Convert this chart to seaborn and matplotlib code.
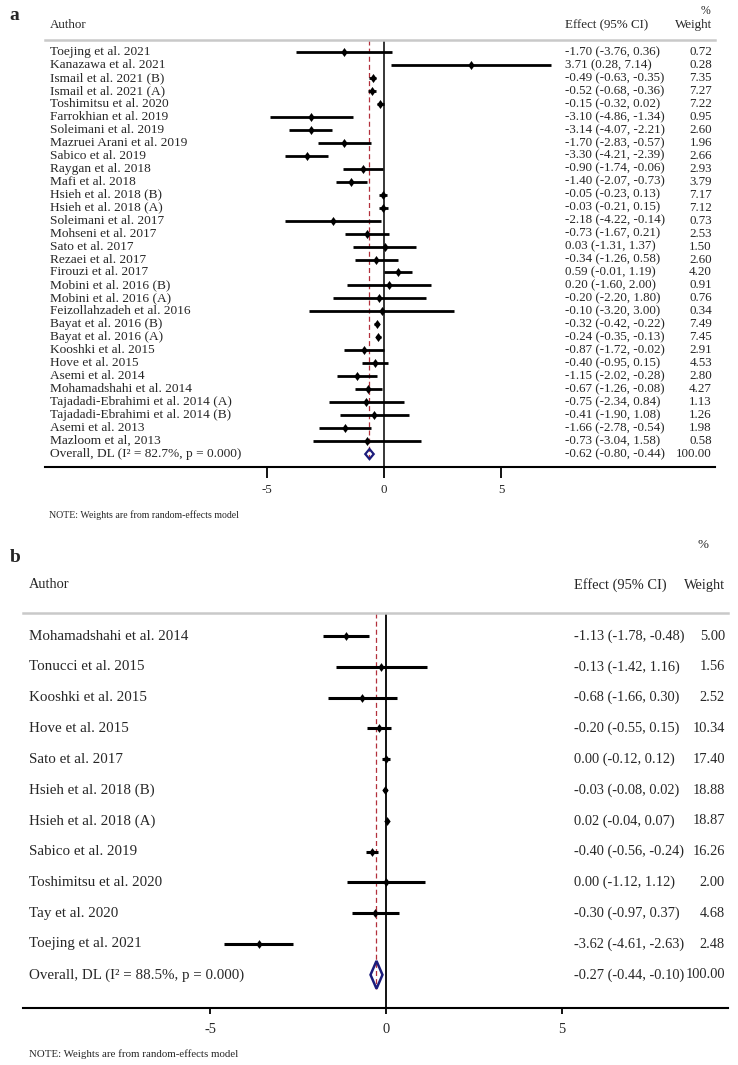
import matplotlib
matplotlib.use("Agg")
import matplotlib.pyplot as plt
from matplotlib.markers import MarkerStyle
from matplotlib.patches import Polygon
import seaborn as sns
import pandas as pd

# ---------------- data: panel a ----------------
authors_a = [
    "Toejing et al. 2021", "Kanazawa et al. 2021", "Ismail et al. 2021 (B)",
    "Ismail et al. 2021 (A)", "Toshimitsu et al. 2020", "Farrokhian et al. 2019",
    "Soleimani et al. 2019", "Mazruei Arani et al. 2019", "Sabico et al. 2019",
    "Raygan et al. 2018", "Mafi et al. 2018", "Hsieh et al. 2018 (B)",
    "Hsieh et al. 2018 (A)", "Soleimani et al. 2017", "Mohseni et al. 2017",
    "Sato et al. 2017", "Rezaei et al. 2017", "Firouzi et al. 2017",
    "Mobini et al. 2016 (B)", "Mobini et al. 2016 (A)", "Feizollahzadeh et al. 2016",
    "Bayat et al. 2016 (B)", "Bayat et al. 2016 (A)", "Kooshki et al. 2015",
    "Hove et al. 2015", "Asemi et al. 2014", "Mohamadshahi et al. 2014",
    "Tajadadi-Ebrahimi et al. 2014 (A)", "Tajadadi-Ebrahimi et al. 2014 (B)",
    "Asemi et al. 2013", "Mazloom et al, 2013",
]
effect_a = [-1.70, 3.71, -0.49, -0.52, -0.15, -3.10, -3.14, -1.70, -3.30, -0.90,
            -1.40, -0.05, -0.03, -2.18, -0.73, 0.03, -0.34, 0.59, 0.20, -0.20,
            -0.10, -0.32, -0.24, -0.87, -0.40, -1.15, -0.67, -0.75, -0.41, -1.66,
            -0.73]
lower_a = [-3.76, 0.28, -0.63, -0.68, -0.32, -4.86, -4.07, -2.83, -4.21, -1.74,
           -2.07, -0.23, -0.21, -4.22, -1.67, -1.31, -1.26, -0.01, -1.60, -2.20,
           -3.20, -0.42, -0.35, -1.72, -0.95, -2.02, -1.26, -2.34, -1.90, -2.78,
           -3.04]
upper_a = [0.36, 7.14, -0.35, -0.36, 0.02, -1.34, -2.21, -0.57, -2.39, -0.06,
           -0.73, 0.13, 0.15, -0.14, 0.21, 1.37, 0.58, 1.19, 2.00, 1.80,
           3.00, -0.22, -0.13, -0.02, 0.15, -0.28, -0.08, 0.84, 1.08, -0.54,
           1.58]
weight_a = [0.72, 0.28, 7.35, 7.27, 7.22, 0.95, 2.60, 1.96, 2.66, 2.93,
            3.79, 7.17, 7.12, 0.73, 2.53, 1.50, 2.60, 4.20, 0.91, 0.76,
            0.34, 7.49, 7.45, 2.91, 4.53, 2.80, 4.27, 1.13, 1.26, 1.98,
            0.58]
overall_a = (-0.62, -0.80, -0.44, 100.00)
i2_a, p_a = 82.7, 0.000

# ---------------- data: panel b ----------------
authors_b = [
    "Mohamadshahi et al. 2014", "Tonucci et al. 2015", "Kooshki et al. 2015",
    "Hove et al. 2015", "Sato et al. 2017", "Hsieh et al. 2018 (B)",
    "Hsieh et al. 2018 (A)", "Sabico et al. 2019", "Toshimitsu et al. 2020",
    "Tay et al. 2020", "Toejing et al. 2021",
]
effect_b = [-1.13, -0.13, -0.68, -0.20, 0.00, -0.03, 0.02, -0.40, 0.00, -0.30, -3.62]
lower_b = [-1.78, -1.42, -1.66, -0.55, -0.12, -0.08, -0.04, -0.56, -1.12, -0.97, -4.61]
upper_b = [-0.48, 1.16, 0.30, 0.15, 0.12, 0.02, 0.07, -0.24, 1.12, 0.37, -2.63]
weight_b = [5.00, 1.56, 2.52, 10.34, 17.40, 18.88, 18.87, 16.26, 2.00, 4.68, 2.48]
overall_b = (-0.27, -0.44, -0.10, 100.00)
i2_b, p_b = 88.5, 0.000

xticks = [-5, 0, 5]
note_text = "NOTE: Weights are from random-effects model"

# ---------------- style ----------------
sns.set_theme(style="white")
plt.rcParams['font.family'] = ['Liberation Serif', 'DejaVu Serif']

W, H = 738, 1065
fig = plt.figure(figsize=(W / 100, H / 100), dpi=100)
fig.patch.set_facecolor("white")

DIAMOND = MarkerStyle([(0, 1), (0.72, 0), (0, -1), (-0.72, 0), (0, 1)])


def draw_panel(L, authors, eff, lo, hi, wt, overall, i2, p):
    left, right, zero_px, ppu = L["left"], L["right"], L["zero"], L["ppu"]
    top, bottom, row0, step = L["top"], L["bottom"], L["row0"], L["step"]
    ax = fig.add_axes([left / W, 1 - bottom / H, (right - left) / W, (bottom - top) / H])
    ax.set_facecolor("white")
    ax.set_xlim((left - zero_px) / ppu, (right - zero_px) / ppu)
    ax.set_ylim((bottom - row0) / step, (top - row0) / step)

    def xd(px):
        return (px - zero_px) / ppu

    def yd(py):
        return (py - row0) / step

    n = len(authors)
    df = pd.DataFrame({"author": authors, "effect": eff, "lower": lo,
                       "upper": hi, "weight": wt, "row": list(range(n))})

    # reference lines
    ax.axvline(0, color="black", lw=L["zlw"], zorder=1)
    est, olo, ohi, owt = overall
    dh = L["dh"]
    ax.vlines(est, yd(top), n + dh / 2, colors="#b3303c", lw=0.9,
              linestyles=(0, (4, 2.5)), zorder=1)

    # CIs and points
    ax.hlines(df["row"], df["lower"], df["upper"], colors="black", lw=L["cilw"], zorder=2)
    sns.scatterplot(data=df, x="effect", y="row", marker=DIAMOND, s=L["ms"],
                    color="black", edgecolor="black", linewidth=0, legend=False,
                    ax=ax, zorder=3)

    # overall diamond (hollow, reference line visible through it)
    poly = Polygon([(olo, n), (est, n - dh / 2), (ohi, n), (est, n + dh / 2)],
                   closed=True, facecolor="none", edgecolor="#1c1c7c",
                   lw=L["dlw"], zorder=3)
    ax.add_patch(poly)

    # text columns
    fs, fsa = L["fs"], L["fsa"]
    for _, r in df.iterrows():
        ax.text(xd(L["xa"]), r["row"], r["author"], ha="left", va="center",
                fontsize=fsa, clip_on=False)
        ax.text(xd(L["xe"]), r["row"],
                f"{r['effect']:.2f} ({r['lower']:.2f}, {r['upper']:.2f})",
                ha="left", va="center", fontsize=fs, clip_on=False)
        ax.text(xd(L["xw"]), r["row"], f"{r['weight']:.2f}", ha="right",
                va="center", fontsize=fs, clip_on=False)
    ax.text(xd(L["xa"]), n, f"Overall, DL (I\u00b2 = {i2:.1f}%, p = {p:.3f})",
            ha="left", va="center", fontsize=fsa, clip_on=False)
    ax.text(xd(L["xe"]), n, f"{est:.2f} ({olo:.2f}, {ohi:.2f})",
            ha="left", va="center", fontsize=fs, clip_on=False)
    ax.text(xd(L["xw"]), n, f"{owt:.2f}", ha="right", va="center",
            fontsize=fs, clip_on=False)

    # headers
    ax.text(xd(L["xa"]), yd(L["hy"]), "Author", ha="left", va="center", fontsize=fs, clip_on=False)
    ax.text(xd(L["xe"]), yd(L["hy"]), "Effect (95% CI)", ha="left", va="center", fontsize=fs, clip_on=False)
    ax.text(xd(L["xw"]), yd(L["hy"]), "Weight", ha="right", va="center", fontsize=fs, clip_on=False)
    ax.text(xd(L["xw"]) - L["pcoff"] / ppu, yd(L["py"]), "%", ha="right", va="center",
            fontsize=fs * 0.9, clip_on=False)

    # axes styling
    for s in ["left", "right"]:
        ax.spines[s].set_visible(False)
    ax.spines["top"].set_color("#c9c9c9")
    ax.spines["top"].set_linewidth(1.8)
    ax.spines["bottom"].set_color("black")
    ax.spines["bottom"].set_linewidth(1.5)
    ax.set_yticks([])
    ax.set_xticks(xticks)
    ax.set_xticklabels([str(t) for t in xticks])
    ax.tick_params(axis="x", bottom=True, direction="out", length=L["tl"], width=1.3,
                   color="black", labelsize=fs, pad=L["tpad"])
    ax.set_xlabel("")
    ax.set_ylabel("")
    return ax


LA = dict(left=45, right=715, zero=384, ppu=23.4, top=40, bottom=467, row0=52,
          step=12.97, fs=9.4, fsa=9.6, xa=50, xe=565, xw=712, hy=25, py=11, pcoff=2,
          ms=42, cilw=2.0, zlw=1.1, dh=0.78, dlw=1.6, tl=8, tpad=4)
LB = dict(left=23, right=728, zero=386, ppu=35.2, top=613, bottom=1008, row0=636,
          step=30.8, fs=10.4, fsa=10.8, xa=29, xe=574, xw=725, hy=585, py=545, pcoff=16,
          ms=40, cilw=2.2, zlw=1.3, dh=0.9, dlw=1.8, tl=4.5, tpad=6)

draw_panel(LA, authors_a, effect_a, lower_a, upper_a, weight_a, overall_a, i2_a, p_a)
draw_panel(LB, authors_b, effect_b, lower_b, upper_b, weight_b, overall_b, i2_b, p_b)

fig.text(9 / W, 1 - 15 / H, "a", fontsize=14, fontweight="bold", ha="left", va="center")
fig.text(10 / W, 1 - 558 / H, "b", fontsize=14, fontweight="bold", ha="left", va="center")
fig.text(49 / W, 1 - 515 / H, note_text, fontsize=7.1, ha="left", va="center")
fig.text(29 / W, 1 - 1054 / H, note_text, fontsize=7.8, ha="left", va="center")

fig.savefig("out.png", dpi=100, facecolor="white")
